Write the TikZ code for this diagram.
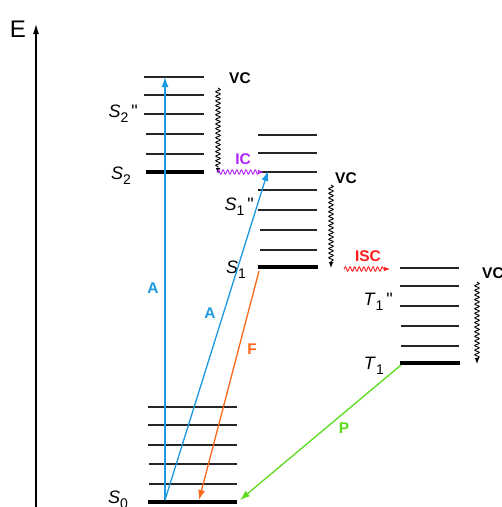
\documentclass[tikz,border=0pt]{standalone}
\usepackage{fontspec}
\setmainfont{Liberation Sans}
\usetikzlibrary{decorations.pathmorphing,arrows.meta}

\definecolor{absblue}{RGB}{27,152,224}
\definecolor{fluor}{RGB}{255,102,26}
\definecolor{phos}{RGB}{92,219,30}
\definecolor{icmag}{RGB}{178,34,255}
\definecolor{iscred}{RGB}{255,28,28}

% italic state symbol with an upright, lowered index
\newcommand{\statesym}[2]{\textit{#1}\raisebox{-5pt}{\fontsize{14}{14}\selectfont #2}}

\tikzset{
  level/.style={line width=1.3pt, black!85},
  ground/.style={line width=3.6pt, black},
  statelab/.style={anchor=base east, inner sep=0pt, font=\fontsize{18}{18}\selectfont},
  proclab/.style={inner sep=0pt, font=\fontsize{15.5}{15.5}\selectfont\bfseries},
  radiative/.style={line width=1.3pt, -{Latex[length=10pt,width=7pt]}},
  wavy/.style={line width=0.9pt, -{Latex[length=6pt,width=4.5pt]},
    decorate, decoration={snake, amplitude=2.2pt, segment length=4.6pt, post length=5pt}},
}

\begin{document}
\begin{tikzpicture}[x=1pt,y=-1pt]
\useasboundingbox (0,0) rectangle (502,507);

% energy axis
\coordinate (axbot) at (36,512);
\coordinate (axtop) at (36,24);
\draw[line width=1.2pt, -{Latex[length=10pt,width=6pt]}] (axbot) -- (axtop);
\node[anchor=base, inner sep=0pt, font=\fontsize{24}{24}\selectfont] (elab) at (18,37) {E};

% S2 manifold
\foreach \y/\xa in {77/144, 95/144, 114/144, 134/146, 154/146}
  \draw[level] (\xa,\y) -- (204,\y);
\draw[ground] (146,172) -- (204,172);

% S1 manifold
\foreach \y/\xa in {135/258, 153/258, 172/258, 190/258, 210/258, 230/260, 250/260}
  \draw[level] (\xa,\y) -- (317,\y);
\draw[ground] (258,267) -- (318,267);

% T1 manifold
\foreach \y/\xa in {268/400, 286/400, 306/400, 326/401, 346/401}
  \draw[level] (\xa,\y) -- (459,\y);
\draw[ground] (400,363) -- (460,363);

% S0 manifold
\foreach \y/\xa in {407/148, 425/148, 445/148, 464/149, 484/149}
  \draw[level] (\xa,\y) -- (237,\y);
\draw[ground] (148,502) -- (237,502);

% state labels
\node[statelab] (s2pp) at (138,117) {\statesym{S}{2}\,\textquotedbl};
\node[statelab] (s2l)  at (131,179) {\statesym{S}{2}};
\node[statelab] (s1pp) at (254,210) {\statesym{S}{1}\,\textquotedbl};
\node[statelab] (s1l)  at (246,273) {\statesym{S}{1}};
\node[statelab] (t1pp) at (393,305) {\statesym{T}{1}\,\textquotedbl};
\node[statelab] (t1l)  at (384,369) {\statesym{T}{1}};
\node[statelab] (s0l)  at (128,503) {\statesym{S}{0}};

% transition end points
\coordinate (s0abs) at (165,500);
\coordinate (s2top) at (165,77);
\coordinate (s1top) at (268,171);
\coordinate (s1base) at (259,271);
\coordinate (s0fl) at (199,500);
\coordinate (t1base) at (401,365);
\coordinate (s0ph) at (240,500);

% absorption, fluorescence, phosphorescence
\draw[radiative, absblue] (s0abs) -- (s2top);
\draw[radiative, absblue] (s0abs) -- (s1top);
\draw[radiative, fluor] (s1base) -- (s0fl);
\draw[radiative, phos] (t1base) -- (s0ph);
\node[proclab, absblue] (la1) at (153,288) {A};
\node[proclab, absblue] (la2) at (210,313) {A};
\node[proclab, fluor] (lf) at (252,349) {F};
\node[proclab, phos] (lp) at (344,428) {P};

% vibrational cascades
\coordinate (vc1a) at (218,88);  \coordinate (vc1b) at (218,174);
\coordinate (vc2a) at (331,185); \coordinate (vc2b) at (331,268);
\coordinate (vc3a) at (477,282); \coordinate (vc3b) at (477,364);
\draw[wavy, black] (vc1a) -- (vc1b);
\draw[wavy, black] (vc2a) -- (vc2b);
\draw[wavy, black] (vc3a) -- (vc3b);
\node[proclab, anchor=base] (vcl1) at (240,83) {VC};
\node[proclab, anchor=base] (vcl2) at (346,183) {VC};
\node[proclab, anchor=base west] (vcl3) at (482,278) {VC};

% internal conversion and intersystem crossing
\coordinate (ica) at (217,172); \coordinate (icb) at (264,172);
\coordinate (isca) at (344,269); \coordinate (iscb) at (390,269);
\draw[wavy, icmag] (ica) -- (icb);
\draw[wavy, iscred] (isca) -- (iscb);
\node[proclab, icmag, anchor=base] (icl) at (243,164) {IC};
\node[proclab, iscred, anchor=base] (iscl) at (368,261) {ISC};
\end{tikzpicture}
\end{document}
